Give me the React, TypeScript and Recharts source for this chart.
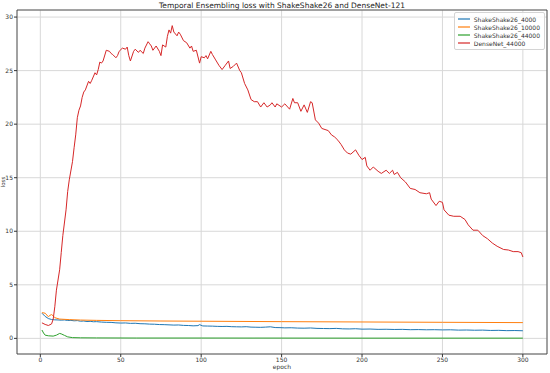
import {
  CartesianGrid,
  Line,
  LineChart,
  ReferenceArea,
  XAxis,
  YAxis,
} from "recharts";

const xTicks = [0, 50, 100, 150, 200, 250, 300];
const yTicks = [0, 5, 10, 15, 20, 25, 30];

const seriesNames = ["ShakeShake26_4000", "ShakeShake26_10000", "ShakeShake26_44000", "DenseNet_44000"];
const seriesColors = ["#1f77b4", "#ff7f0e", "#2ca02c", "#d62728"];

// ShakeShake26_4000
const blueEpochs = [
  1, 3, 5, 7, 9, 11, 13, 15, 17, 19, 21, 23, 25, 27, 29, 31, 33, 35, 38, 41, 44, 47, 50, 53, 56, 59, 62, 65,
  68, 71, 74, 77, 80, 83, 86, 89, 92, 95, 98, 99, 101, 104, 107, 110, 113, 116, 119, 122, 125, 128, 131, 134,
  137, 140, 143, 146, 149, 152, 156, 160, 164, 168, 172, 176, 180, 184, 188, 192, 196, 200, 205, 210, 215, 220,
  225, 230, 235, 240, 245, 250, 255, 260, 265, 270, 275, 280, 285, 290, 295, 300,
];
const blueLoss = [
  2.35, 2.05, 1.85, 1.76, 1.73, 1.72, 1.7, 1.72, 1.67, 1.68, 1.64, 1.66, 1.6, 1.62, 1.57, 1.59, 1.55, 1.56, 1.52,
  1.5, 1.49, 1.45, 1.43, 1.44, 1.4, 1.41, 1.37, 1.36, 1.33, 1.32, 1.29, 1.28, 1.26, 1.24, 1.25, 1.21, 1.2, 1.17,
  1.19, 1.28, 1.16, 1.15, 1.14, 1.12, 1.11, 1.12, 1.09, 1.08, 1.07, 1.09, 1.05, 1.04, 1.03, 1.05, 1.08, 1.01,
  1.0, 0.98, 0.99, 0.96, 0.95, 0.97, 0.93, 0.92, 0.91, 0.93, 0.89, 0.88, 0.9, 0.86, 0.87, 0.84, 0.85, 0.83,
  0.84, 0.81, 0.82, 0.8, 0.81, 0.79, 0.8, 0.77, 0.78, 0.76, 0.77, 0.74, 0.75, 0.72, 0.73, 0.71,
];

// ShakeShake26_10000
const orangeEpochs = [1, 3, 5, 6, 7, 8, 9, 12, 18, 25, 35, 50, 75, 100, 150, 200, 250, 300];
const orangeLoss = [2.4, 2.35, 2.02, 2.15, 2.22, 2.1, 1.93, 1.8, 1.75, 1.71, 1.68, 1.65, 1.62, 1.6, 1.56, 1.53, 1.5, 1.47];

// ShakeShake26_44000
const greenEpochs = [1, 2, 3, 5, 8, 10, 12, 13, 15, 17, 20, 25, 35, 60, 100, 200, 300];
const greenLoss = [0.78, 0.5, 0.3, 0.24, 0.21, 0.3, 0.46, 0.42, 0.28, 0.14, 0.07, 0.05, 0.04, 0.03, 0.03, 0.02, 0.02];

// DenseNet_44000
const redEpochs = [
  1, 3, 5, 7, 8, 9, 10, 12, 13, 14, 16, 17, 18, 20, 21, 22, 23, 24, 25, 26, 27, 28, 30, 31, 32, 34, 35, 36, 37,
  38, 39, 41, 43, 44, 45, 47, 48, 49, 51, 53, 54, 55, 56, 58, 59, 61, 62, 64, 65, 67, 68, 69, 70, 72, 74, 75, 76,
  78, 79, 80, 81, 82, 83, 85, 86, 87, 89, 91, 93, 94, 95, 97, 99, 100, 102, 103, 104, 106, 107, 109, 111, 113,
  115, 117, 118, 120, 122, 124, 125, 127, 129, 131, 133, 135, 137, 139, 141, 143, 144, 146, 147, 150, 152, 155,
  157, 158, 160, 162, 164, 166, 168, 169, 171, 173, 175, 177, 179, 181, 183, 185, 187, 189, 191, 193, 196, 198,
  200, 202, 203, 205, 207, 210, 212, 215, 217, 219, 220, 222, 224, 227, 230, 233, 236, 240, 242, 243, 246, 248,
  250, 251, 254, 257, 261, 264, 266, 269, 272, 275, 278, 281, 284, 288, 291, 294, 297, 299, 300,
];
const redLoss = [
  1.45, 1.3, 1.2, 1.35, 1.8, 2.95, 4.5, 6.4, 8.0, 9.6, 12.0, 13.7, 14.8, 16.5, 17.8, 19.0, 20.6, 21.3, 21.7, 22.5,
  23.0, 23.2, 24.0, 23.8, 24.1, 24.8, 24.6, 25.1, 25.8, 25.7, 25.9, 26.9, 26.8, 26.6, 26.5, 26.2, 26.4, 26.8,
  27.1, 27.0, 27.2, 26.4, 25.9, 26.8, 27.0, 26.7, 26.9, 26.6, 27.1, 27.7, 27.5, 27.3, 26.9, 27.3, 26.8, 26.4,
  27.4, 27.2, 28.2, 28.8, 28.5, 29.2, 28.6, 28.25, 28.6, 28.4, 27.8, 27.6, 27.1, 27.3, 26.8, 26.9, 25.7, 26.3,
  26.2, 26.4, 26.1, 26.8, 26.5, 26.0, 25.5, 25.1, 25.5, 25.9, 25.2, 25.4, 25.7, 25.0, 24.8, 23.8, 23.2, 22.3,
  22.1, 22.1, 21.6, 22.0, 21.6, 21.8, 22.0, 21.6, 21.9, 21.6, 21.9, 21.4, 22.4, 22.0, 22.0, 21.2, 21.8, 21.1,
  22.1, 22.0, 20.4, 20.1, 19.6, 19.5, 19.4, 19.0, 18.8, 18.5, 18.1, 17.6, 17.3, 17.2, 17.6, 17.1, 16.7, 16.9,
  16.1, 15.7, 16.0, 15.6, 15.4, 15.7, 15.4, 15.7, 15.3, 15.5, 15.0, 14.6, 14.0, 13.9, 13.6, 13.5, 13.6, 13.0,
  12.4, 12.8, 12.7, 12.0, 11.5, 11.4, 11.4, 11.1, 10.6, 10.1, 10.1, 9.6, 9.3, 8.9, 8.6, 8.3, 8.25, 8.1, 8.1,
  8.0, 7.6,
];

const toRows = (epochs: number[], loss: number[]) => epochs.map((epoch, i) => ({ epoch, loss: loss[i] }));

const seriesData = [
  toRows(blueEpochs, blueLoss),
  toRows(orangeEpochs, orangeLoss),
  toRows(greenEpochs, greenLoss),
  toRows(redEpochs, redLoss),
];

const X_DOMAIN: [number, number] = [-14.5, 315];
const Y_DOMAIN: [number, number] = [-1.46, 30.66];
const FONT = "'DejaVu Sans', sans-serif";

function LegendBox() {
  return (
    <div
      style={{
        position: "absolute",
        top: 12,
        right: 5,
        border: "1px solid #d4d4d4",
        borderRadius: 2,
        background: "rgba(255,255,255,0.8)",
        padding: "2px 4px 2px 3px",
        fontFamily: FONT,
        fontSize: 6,
        color: "#333",
      }}
    >
      {seriesNames.map((name, i) => (
        <div key={name} style={{ display: "flex", alignItems: "center", height: 8 }}>
          <svg width={12} height={4} style={{ marginRight: 4, flexShrink: 0 }}>
            <line x1={0} y1={2} x2={12} y2={2} stroke={seriesColors[i]} strokeWidth={1.2} />
          </svg>
          <span>{name}</span>
        </div>
      ))}
    </div>
  );
}

export default function App() {
  return (
    <div
      style={{
        position: "absolute",
        left: 0,
        top: 0,
        width: 550,
        height: 373,
        background: "#fff",
        fontFamily: FONT,
      }}
    >
      <LineChart width={550} height={373} margin={{ top: 10, right: 3, bottom: 0, left: 0 }}>
        <CartesianGrid stroke="#d8d8d8" strokeWidth={1} />
        <XAxis
          dataKey="epoch"
          type="number"
          domain={X_DOMAIN}
          ticks={xTicks}
          allowDataOverflow
          height={19}
          axisLine={false}
          tickSize={3}
          tickMargin={1}
          tickLine={{ stroke: "#333" }}
          tick={{ fontSize: 6, fill: "#333", fontFamily: FONT }}
        />
        <YAxis
          type="number"
          domain={Y_DOMAIN}
          ticks={yTicks}
          allowDataOverflow
          width={17}
          axisLine={false}
          tickSize={3}
          tickMargin={1}
          tickLine={{ stroke: "#333" }}
          tick={{ fontSize: 6, fill: "#333", fontFamily: FONT }}
        />
        <ReferenceArea
          x1={X_DOMAIN[0]}
          x2={X_DOMAIN[1]}
          y1={Y_DOMAIN[0]}
          y2={Y_DOMAIN[1]}
          fill="none"
          stroke="#333"
          strokeWidth={0.8}
          ifOverflow="visible"
        />
        {seriesData.map((rows, i) => (
          <Line
            key={seriesNames[i]}
            data={rows}
            dataKey="loss"
            name={seriesNames[i]}
            stroke={seriesColors[i]}
            strokeWidth={1}
            dot={false}
            activeDot={false}
            type="linear"
            isAnimationActive={false}
          />
        ))}
      </LineChart>
      <LegendBox />
      <div
        style={{
          position: "absolute",
          top: 1,
          left: 17,
          width: 530,
          textAlign: "center",
          fontSize: 7.5,
          color: "#222",
        }}
      >
        Temporal Ensembling loss with ShakeShake26 and DenseNet-121
      </div>
      <div
        style={{
          position: "absolute",
          top: 363,
          left: 17,
          width: 530,
          textAlign: "center",
          fontSize: 6,
          color: "#333",
        }}
      >
        epoch
      </div>
      <div
        style={{
          position: "absolute",
          left: -12.2,
          top: 179,
          width: 30,
          textAlign: "center",
          fontSize: 5.5,
          lineHeight: "6px",
          color: "#333",
          transform: "rotate(-90deg)",
        }}
      >
        loss
      </div>
    </div>
  );
}
